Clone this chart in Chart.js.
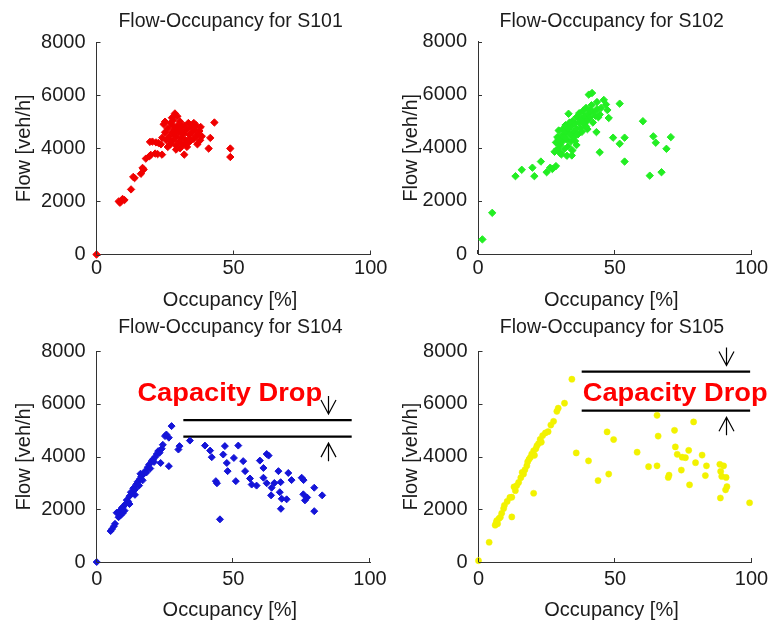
<!DOCTYPE html>
<html>
<head>
<meta charset="utf-8">
<script src="https://cdn.jsdelivr.net/npm/chart.js@4.4.0/dist/chart.umd.min.js"></script>
<style>
  body { margin: 0; background: #fff; }
  #wrap { position: relative; width: 774px; height: 624px; overflow: hidden; background: #fff; }
  canvas { position: absolute; }
</style>
</head>
<body>
<div id="wrap">
  <canvas id="c101" width="387" height="312" style="left:0;top:0"></canvas>
  <canvas id="c102" width="387" height="312" style="left:387px;top:0"></canvas>
  <canvas id="c104" width="387" height="312" style="left:0;top:312px"></canvas>
  <canvas id="c105" width="387" height="312" style="left:387px;top:312px"></canvas>
</div>
<script>
// tick labels
const occTicks = [0, 50, 100];
const flowTicks = [0, 2000, 4000, 6000, 8000];

// [occupancy %, flow veh/h]
const s101 = [
  [0, 0], [8.1, 2000], [8.6, 1950], [9.5, 2090], [10.2, 2050], [12.6, 2450], [13.4, 2920], [13.9, 2880],
  [16.2, 3040], [16.8, 3260], [17.2, 3200], [18, 3610], [19.3, 3700], [19.8, 3750], [21.4, 3800],
  [22.3, 3780], [23.9, 3760], [19.5, 4240], [20.4, 4250], [21.7, 4220], [22.6, 4200], [23.5, 4150],
  [24.5, 4900], [25, 4600], [25.5, 4300], [26, 4750], [26.5, 4450], [27, 4950], [27, 4150], [27.5, 4600],
  [28, 4300], [28, 5050], [28.5, 4700], [29, 4450], [29, 4100], [29.5, 4850], [30, 4600], [30, 4250],
  [30.5, 5000], [30.5, 4000], [31, 4700], [31, 4400], [31.5, 4150], [32, 4850], [32, 4550], [32.5, 4300],
  [33, 4700], [33, 4050], [33.5, 4950], [34, 4500], [34, 4250], [34.5, 4800], [35, 4600], [35.5, 4350],
  [35.5, 4950], [36, 4700], [36.5, 4450], [29, 3950], [26, 4050], [24, 4400], [28.6, 5310], [27.5, 5150],
  [29.5, 5200], [25, 5000], [32, 3760], [36.9, 4520], [36.3, 4870], [37.5, 4650], [38, 4800], [38.4, 4450],
  [37.8, 4300], [36.8, 4150], [41.5, 4390], [40.9, 3990], [43, 4970], [48.8, 3990], [48.8, 3670],
  [26.8, 4300], [28.2, 4550], [29.8, 4750], [31.2, 4550], [32.8, 4150], [33.8, 4350], [30.8, 4850], [27.8, 4850]
];
const s102 = [
  [1.6, 550], [5.2, 1550], [13.7, 2930], [16, 3170], [19.9, 3250], [20.6, 2930], [23, 3480], [25.1, 3080],
  [26.4, 3250], [27.2, 3200], [28.5, 3310], [28, 3850], [28.5, 4200], [29, 4400], [29, 3950], [29.5, 4650],
  [30, 4100], [30, 3800], [30.5, 4450], [31, 4250], [31, 4700], [31.5, 3950], [32, 4550], [32, 4850],
  [32.5, 4300], [33, 4700], [33, 4050], [33.5, 4500], [34, 4800], [34, 4250], [34.5, 5000], [35, 4600],
  [35, 4400], [35.5, 4900], [36, 4700], [36, 5150], [36.5, 4500], [37, 4950], [37, 5300], [37.5, 4750],
  [38, 5100], [38, 4600], [38.5, 5400], [39, 4900], [39, 5200], [39.5, 5500], [40, 5050], [40, 4700],
  [40.5, 5300], [41, 5150], [41.5, 5600], [42, 4950], [42, 5350], [43, 5200], [43.5, 5450], [44, 5150],
  [44.5, 5250], [45, 5500], [46, 5800], [32.5, 3700], [30.5, 3750], [34.5, 3900], [36, 4100],
  [33.1, 5280], [34.3, 3710], [41.7, 6060], [40.5, 6000], [43.5, 5720], [46.8, 5630], [47.8, 5120],
  [47.3, 5420], [51.8, 5660], [43.3, 4590], [44.5, 3830], [49.4, 4380], [51.8, 4150], [53.6, 4380],
  [53.6, 3480], [60.3, 5000], [64.1, 4430], [65, 4190], [68.9, 3960], [70.5, 4400], [62.8, 2950], [67.1, 3080],
  [29.5, 4300], [31.5, 4400], [33.5, 4950], [35.5, 4250], [37.5, 5050], [39.5, 4800], [41, 5400], [38.5, 4950]
];
const s104 = [
  [0, 0], [5.1, 1175], [5.6, 1250], [6.3, 1360], [6.7, 1450], [7.3, 1870], [8, 1700], [8.5, 1950],
  [8.8, 1780], [9.2, 2050], [9.5, 1850], [9.7, 2100], [10.2, 1950], [10.5, 2200], [11, 2350], [11.5, 2300],
  [12, 2500], [12, 2200], [12.5, 2650], [13, 2600], [13.4, 2800], [14, 2750], [14, 2550], [14.5, 2950],
  [15, 3050], [15.5, 2900], [15.8, 3150], [16, 3350], [16.3, 3250], [16.8, 3100], [17.2, 3350], [17.7, 3450],
  [18.2, 3400], [18.7, 3600], [19.2, 3700], [19.6, 3550], [20.1, 3830], [20.6, 3900], [21, 3800], [21.5, 4000],
  [22, 4100], [22.5, 4210], [23, 4150], [23.4, 3760], [23.8, 4300], [24.2, 4450], [25, 4780], [25.5, 4840],
  [26.4, 4720], [26.4, 3640], [27.4, 5160], [29.9, 4270], [30.3, 4400], [34.1, 4610], [39.6, 4420],
  [41.5, 4230], [42.1, 3980], [43.6, 3070], [44, 2990], [45.1, 1620], [46.9, 4400], [46.3, 4080],
  [47.6, 3760], [47.9, 3450], [50.2, 3950], [51.8, 4420], [50.9, 3070], [53.6, 3830], [54.3, 3450],
  [56.1, 3170], [56.7, 2940], [58.5, 2900], [59.7, 3850], [61, 3570], [62.2, 4100], [62.9, 4040], [61, 3200],
  [62.2, 2990], [64, 2820], [63.8, 2530], [65, 3000], [66.5, 3450], [67.3, 3030], [67, 2650], [67.7, 2400],
  [67.4, 2020], [69.5, 2380], [70.1, 3380], [71.3, 3110], [75, 3200], [75.7, 3110], [75.6, 2570],
  [76.2, 2340], [77, 2450], [79.6, 2820], [79.6, 1930], [82.5, 2530]
];
const s105 = [
  [0, 50], [3.9, 750], [6.1, 1400], [6.5, 1500], [6.7, 1570], [7, 1450], [7.5, 1650], [8, 1700], [8.5, 1850],
  [9.2, 2030], [9.5, 2150], [10.5, 2300], [11.5, 2450], [12.2, 1710], [12.2, 2460], [13, 2850], [13.5, 2710],
  [14, 2900], [14.7, 3020], [15.5, 3200], [16, 3400], [16.5, 3340], [17, 3500], [17.7, 3650], [18, 3800],
  [18.5, 3900], [19, 3970], [19.5, 4100], [20.2, 4220], [20.2, 2610], [20.5, 4050], [21, 4300], [21.4, 4410],
  [22, 4500], [22.6, 4660], [23, 4550], [23.5, 4800], [24.5, 4900], [25.5, 4950], [26.5, 5200], [27.5, 5340],
  [28.7, 5720], [29.2, 5840], [31.5, 6030], [34.2, 6940], [35.8, 4140], [40.3, 3840], [43.8, 3090],
  [47.1, 4940], [47.7, 3340], [49.5, 4650], [58.1, 4170], [62.3, 3620], [65.4, 3650], [65.4, 5570],
  [65.8, 4780], [69.5, 3210], [69.8, 3300], [71.8, 5000], [72.1, 4370], [72.8, 4090], [74.3, 3490],
  [74.6, 3980], [75.8, 3960], [77, 4240], [77.3, 2930], [78.8, 5320], [79.5, 3770], [81.9, 4060],
  [83.5, 3650], [83.1, 3280], [88.4, 3710], [89.8, 3650], [88.7, 3440], [89.1, 3250], [90.7, 3210],
  [91, 2860], [90.5, 2740], [88.6, 2430], [99.3, 2250]
];

// capacity drop marks: two flow levels, occupancy span, arrow occupancy, label start
const s104DropFlow = [5390, 4760];
const s104DropOcc = [31.7, 93.3];
const s104ArrowOcc = 84.7;
const s104LabelAt = [14.9, 6110];
const s105DropFlow = [7230, 5745];
const s105DropOcc = [37.8, 99.5];
const s105ArrowOcc = 90.5;
const s105LabelAt = [38.2, 6110];

const FONT = '"Liberation Sans", Arial, Helvetica, sans-serif';
const INK = '#1c1c1c';

const decor = {
  id: 'decor',
  afterDraw(chart, args, o) {
    const { ctx, chartArea: a, scales: { x, y } } = chart;
    ctx.save();
    // inward tick marks (MATLAB style)
    ctx.strokeStyle = '#333';
    ctx.lineWidth = 1;
    ctx.beginPath();
    flowTicks.forEach(v => {
      const py = Math.round(y.getPixelForValue(v)) + 0.5;
      ctx.moveTo(a.left, py); ctx.lineTo(a.left + 4, py);
    });
    occTicks.forEach(v => {
      const px = Math.round(x.getPixelForValue(v)) - 0.5;
      ctx.moveTo(px, a.bottom); ctx.lineTo(px, a.bottom - 4);
    });
    ctx.stroke();

    // title and axis labels
    ctx.fillStyle = INK;
    ctx.textAlign = 'center';
    ctx.textBaseline = 'alphabetic';
    const cx = (a.left + a.right) / 2;
    ctx.font = '19.5px ' + FONT;
    ctx.fillText(o.title, cx - 3, a.top - o.titleGap);
    ctx.font = '20px ' + FONT;
    ctx.fillText('Occupancy [%]', cx - 3.5, a.bottom + o.xlabelGap);
    ctx.save();
    ctx.translate(23, (a.top + a.bottom) / 2);
    ctx.rotate(-Math.PI / 2);
    ctx.fillText('Flow [veh/h]', 0, 7);
    ctx.restore();

    // capacity drop arrows and label
    if (o.drop) {
      const d = o.drop;
      const ax = Math.round(x.getPixelForValue(d.arrowOcc)) + 0.5;
      const yTop = y.getPixelForValue(d.flow[0]);
      const yBot = y.getPixelForValue(d.flow[1]);
      ctx.strokeStyle = '#000';
      ctx.lineWidth = 1.2;
      ctx.beginPath();
      // down arrow above the upper line
      let tip = yTop - 6;
      ctx.moveTo(ax, tip - 18); ctx.lineTo(ax, tip);
      ctx.moveTo(ax - 7.5, tip - 14); ctx.lineTo(ax, tip); ctx.lineTo(ax + 7.5, tip - 14);
      // up arrow below the lower line
      tip = yBot + 6.5;
      ctx.moveTo(ax, tip + 18); ctx.lineTo(ax, tip);
      ctx.moveTo(ax - 7.5, tip + 14); ctx.lineTo(ax, tip); ctx.lineTo(ax + 7.5, tip + 14);
      ctx.stroke();

      ctx.fillStyle = '#ff0000';
      ctx.textAlign = 'left';
      ctx.font = 'bold 25px ' + FONT;
      ctx.translate(x.getPixelForValue(d.label[0]), y.getPixelForValue(d.label[1]));
      ctx.scale(1.09, 1);
      ctx.fillText('Capacity Drop', 0, 0);
    }
    ctx.restore();
  }
};

function makeChart(p) {
  const datasets = [{
    data: p.points.map(v => ({ x: v[0], y: v[1] })),
    pointStyle: p.style,
    pointRadius: p.radius,
    backgroundColor: p.color,
    borderColor: p.color,
    borderWidth: p.border,
    showLine: false,
    clip: false
  }];
  if (p.drop) {
    p.drop.flow.forEach(f => {
      datasets.push({
        data: [{ x: p.drop.occ[0], y: f }, { x: p.drop.occ[1], y: f }],
        showLine: true,
        borderColor: '#000',
        borderWidth: 2.2,
        pointRadius: 0
      });
    });
  }
  const a = p.area;
  const tickFont = { family: FONT, size: 20 };
  new Chart(document.getElementById(p.id), {
    type: 'scatter',
    data: { datasets },
    plugins: [decor],
    options: {
      responsive: false,
      animation: false,
      devicePixelRatio: 1,
      layout: { padding: { left: 0, top: a.t, right: 387 - a.r, bottom: 0 } },
      plugins: {
        legend: { display: false },
        tooltip: { enabled: false },
        decor: { title: p.title, titleGap: p.titleGap, xlabelGap: p.xlabelGap, drop: p.drop }
      },
      scales: {
        x: {
          type: 'linear', min: 0, max: 100,
          afterBuildTicks: s => { s.ticks = occTicks.map(v => ({ value: v })); },
          afterFit: s => { s.height = 312 - a.b; s.paddingLeft = 0; s.paddingRight = 0; },
          ticks: { font: tickFont, color: INK, padding: p.xtickPad, maxRotation: 0, autoSkip: false, callback: v => String(v) },
          grid: { display: false, drawTicks: false },
          border: { display: true, color: '#333', width: 1 }
        },
        y: {
          type: 'linear', min: 0, max: 8000,
          afterBuildTicks: s => { s.ticks = flowTicks.map(v => ({ value: v })); },
          afterFit: s => { s.width = a.l; s.paddingTop = 0; s.paddingBottom = 0; },
          ticks: { font: tickFont, color: INK, padding: 11, autoSkip: false, callback: v => String(v) },
          grid: { display: false, drawTicks: false },
          border: { display: true, color: '#333', width: 1 }
        }
      }
    }
  });
}

const panels = [
  { id: 'c101', title: 'Flow-Occupancy for S101', points: s101, color: '#f00000', style: 'rectRot', radius: 3.7, border: 1,
    area: { l: 96.5, r: 370.7, t: 42, b: 254.5 }, titleGap: 15, xlabelGap: 51.5, xtickPad: 2 },
  { id: 'c102', title: 'Flow-Occupancy for S102', points: s102, color: '#22ee22', style: 'rectRot', radius: 3.7, border: 1,
    area: { l: 91, r: 364.5, t: 41.5, b: 254 }, titleGap: 15, xlabelGap: 52, xtickPad: 2 },
  { id: 'c104', title: 'Flow-Occupancy for S104', points: s104, color: '#1414d8', style: 'rectRot', radius: 3.5, border: 1,
    area: { l: 96.7, r: 370, t: 39.3, b: 250 }, titleGap: 18.5, xlabelGap: 54, xtickPad: 5,
    drop: { flow: s104DropFlow, occ: s104DropOcc, arrowOcc: s104ArrowOcc, label: s104LabelAt } },
  { id: 'c105', title: 'Flow-Occupancy for S105', points: s105, color: '#f2f200', style: 'circle', radius: 3.1, border: 0.5,
    area: { l: 91.5, r: 364.5, t: 39.3, b: 250 }, titleGap: 18.5, xlabelGap: 54, xtickPad: 5,
    drop: { flow: s105DropFlow, occ: s105DropOcc, arrowOcc: s105ArrowOcc, label: s105LabelAt } }
];

panels.forEach(makeChart);
</script>
</body>
</html>
